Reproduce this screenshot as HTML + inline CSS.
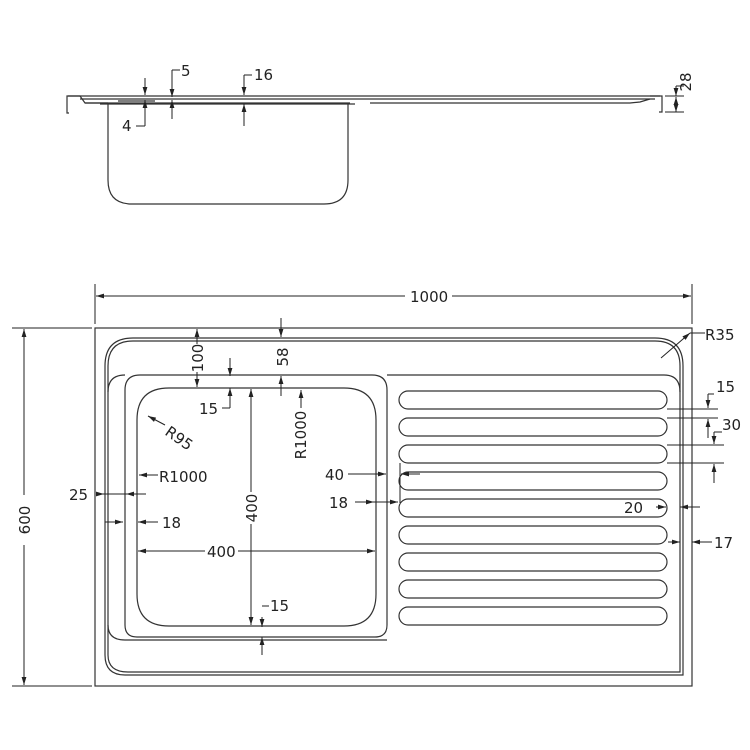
<!DOCTYPE html>
<html><head><meta charset="utf-8"><style>
html,body{margin:0;padding:0;background:#fff;}
svg{display:block}
text{font-family:"DejaVu Sans","Liberation Sans",sans-serif;font-size:15px;fill:#222}
</style></head><body>
<svg width="750" height="750" viewBox="0 0 750 750" xmlns="http://www.w3.org/2000/svg">
<defs>
<marker id="a" viewBox="0 0 10 6" refX="10" refY="3" markerWidth="8" markerHeight="5" orient="auto-start-reverse" markerUnits="userSpaceOnUse"><path d="M0,0L10,3L0,6z" fill="#222"/></marker>
</defs>
<g fill="none" stroke="#333" stroke-width="1.2">
<!-- side view -->
<path d="M69,113 H67 V96 H80 L85,103 H108"/>
<line x1="68" y1="96" x2="660" y2="96"/>
<line x1="80" y1="99" x2="655" y2="99"/>
<path d="M85,103 H350 M370,103 H630 L640,102 L650,99"/>
<line x1="100" y1="104" x2="355" y2="104"/>
<line x1="118" y1="101" x2="155" y2="101"/>
<path d="M108,104 V180 Q108,204 132,204 H324 Q348,204 348,180 V104"/>
<path d="M650,96 H662 V112 H659"/>
<!-- top view outer -->
<rect x="95" y="328" width="597" height="358"/>
<path d="M105,655 V366 Q105,338 133,338 H655 Q683,338 683,366 V675 H125 Q105,675 105,655 Z"/>
<path d="M108,655 V366 Q108,341 133,341 H655 Q680,341 680,366 V672 H128 Q108,672 108,655"/>
<!-- rim lines -->
<path d="M108,392 Q108,375 125,375 M387,375 H664 Q680,375 680,392"/>
<path d="M108,625 Q108,640 125,640 H387"/>
<!-- bowl well -->
<path d="M125,625 V390 Q125,375 140,375 H372 Q387,375 387,390 V625 Q387,637 375,637 H137 Q125,637 125,625 Z"/>
<!-- bowl -->
<path d="M137,420 Q137,388 169,388 H344 Q376,388 376,420 V594 Q376,626 344,626 H169 Q137,626 137,594 Z"/>
</g>
<!-- grooves -->
<g fill="none" stroke="#333" stroke-width="1.2">
<rect x="399" y="391" width="268" height="18" rx="9"/>
<rect x="399" y="418" width="268" height="18" rx="9"/>
<rect x="399" y="445" width="268" height="18" rx="9"/>
<rect x="399" y="472" width="268" height="18" rx="9"/>
<rect x="399" y="499" width="268" height="18" rx="9"/>
<rect x="399" y="526" width="268" height="18" rx="9"/>
<rect x="399" y="553" width="268" height="18" rx="9"/>
<rect x="399" y="580" width="268" height="18" rx="9"/>
<rect x="399" y="607" width="268" height="18" rx="9"/>
</g>
<!-- dimensions -->
<g stroke="#222" stroke-width="1" fill="none">
<line x1="95" y1="284" x2="95" y2="324"/><line x1="692" y1="284" x2="692" y2="324"/>
<line x1="96" y1="296" x2="405" y2="296" marker-start="url(#a)"/><line x1="452" y1="296" x2="691" y2="296" marker-end="url(#a)"/>
<line x1="12" y1="328" x2="92" y2="328"/><line x1="12" y1="686" x2="92" y2="686"/>
<line x1="24" y1="329" x2="24" y2="495" marker-start="url(#a)"/><line x1="24" y1="545" x2="24" y2="685" marker-end="url(#a)"/>
<line x1="197" y1="329" x2="197" y2="344" marker-start="url(#a)"/><line x1="197" y1="372" x2="197" y2="387" marker-end="url(#a)"/>
<line x1="281" y1="318" x2="281" y2="337" marker-end="url(#a)"/><line x1="281" y1="376" x2="281" y2="396" marker-start="url(#a)"/>
<path d="M230,358 V376" marker-end="url(#a)"/><path d="M230,408 V388" marker-end="url(#a)"/><path d="M230,408 H222"/>
<line x1="251" y1="389" x2="251" y2="492" marker-start="url(#a)"/><line x1="251" y1="524" x2="251" y2="625" marker-end="url(#a)"/>
<path d="M301,408 V390" marker-end="url(#a)"/>
<line x1="165" y1="425" x2="148" y2="416" marker-end="url(#a)"/>
<line x1="158" y1="475" x2="139" y2="475" marker-end="url(#a)"/>
<line x1="97" y1="494" x2="104" y2="494" marker-end="url(#a)"/><line x1="146" y1="494" x2="126" y2="494" marker-end="url(#a)"/><line x1="104" y1="494" x2="126" y2="494"/>
<line x1="105" y1="522" x2="123" y2="522" marker-end="url(#a)"/><line x1="158" y1="522" x2="138" y2="522" marker-end="url(#a)"/>
<line x1="138" y1="551" x2="205" y2="551" marker-start="url(#a)"/><line x1="238" y1="551" x2="375" y2="551" marker-end="url(#a)"/>
<path d="M262,617 V627" marker-end="url(#a)"/><path d="M262,655 V637" marker-end="url(#a)"/><path d="M262,606 H269"/>
<line x1="348" y1="474" x2="386" y2="474" marker-end="url(#a)"/><line x1="420" y1="474" x2="401" y2="474"  marker-end="url(#a)"/><line x1="400" y1="463" x2="400" y2="503"/>
<line x1="355" y1="502" x2="374" y2="502" marker-end="url(#a)"/><line x1="374" y1="502" x2="398" y2="502" marker-end="url(#a)"/>
<line x1="667" y1="409" x2="718" y2="409"/><line x1="667" y1="418" x2="718" y2="418"/>
<line x1="667" y1="445" x2="724" y2="445"/><line x1="667" y1="463" x2="724" y2="463"/>
<path d="M708,394 V408" marker-end="url(#a)"/><path d="M708,438 V419" marker-end="url(#a)"/><path d="M708,394 H714"/>
<path d="M714,432 V444" marker-end="url(#a)"/><path d="M714,483 V464" marker-end="url(#a)"/><path d="M714,432 H722"/>
<line x1="656" y1="507" x2="666" y2="507" marker-end="url(#a)"/><line x1="700" y1="507" x2="680" y2="507" marker-end="url(#a)"/>
<line x1="668" y1="542" x2="680" y2="542" marker-end="url(#a)"/><line x1="712" y1="542" x2="692" y2="542" marker-end="url(#a)"/>
<line x1="661" y1="358" x2="690" y2="333"  marker-end="url(#a)"/><path d="M690,333 H705"/>
<path d="M145,78 V95" marker-end="url(#a)"/><path d="M145,126 V100" marker-end="url(#a)"/><path d="M145,126 H136"/>
<path d="M172,70 V97" marker-end="url(#a)"/><path d="M172,119 V100" marker-end="url(#a)"/><path d="M172,70 H180"/>
<path d="M244,75 V95" marker-end="url(#a)"/><path d="M244,126 V104" marker-end="url(#a)"/><path d="M244,75 H252"/>
<line x1="665" y1="96" x2="684" y2="96"/><line x1="665" y1="112" x2="684" y2="112"/>
<path d="M676,86 V96" marker-end="url(#a)"/><path d="M676,112 V97" marker-start="url(#a)" marker-end="url(#a)"/><path d="M676,86 H684"/>
</g>
<g>
<text x="410" y="302">1000</text>
<text x="30" y="520" transform="rotate(-90 30 520)" text-anchor="middle">600</text>
<text x="203" y="358" transform="rotate(-90 203 358)" text-anchor="middle">100</text>
<text x="288" y="357" transform="rotate(-90 288 357)" text-anchor="middle">58</text>
<text x="199" y="414">15</text>
<text x="306" y="435" transform="rotate(-90 306 435)" text-anchor="middle">R1000</text>
<text x="164" y="434" transform="rotate(35 164 434)">R95</text>
<text x="159" y="482">R1000</text>
<text x="69" y="500">25</text>
<text x="162" y="528">18</text>
<text x="257" y="508" transform="rotate(-90 257 508)" text-anchor="middle">400</text>
<text x="207" y="557">400</text>
<text x="270" y="611">15</text>
<text x="325" y="480">40</text>
<text x="329" y="508">18</text>
<text x="705" y="340">R35</text>
<text x="716" y="392">15</text>
<text x="722" y="430">30</text>
<text x="624" y="513">20</text>
<text x="714" y="548">17</text>
<text x="122" y="131">4</text>
<text x="181" y="76">5</text>
<text x="254" y="80">16</text>
<text x="691" y="82" transform="rotate(-90 691 82)" text-anchor="middle">28</text>
</g>
</svg>
</body></html>
